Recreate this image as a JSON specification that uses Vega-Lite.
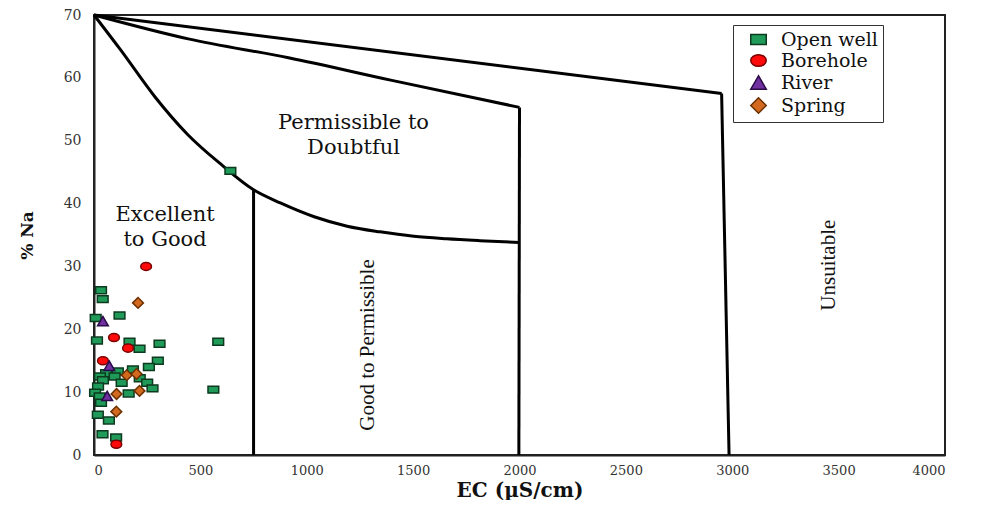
{
  "$schema": "https://vega.github.io/schema/vega-lite/v6.json",
  "width": 851,
  "height": 440,
  "padding": {"left": 18, "top": 8, "right": 30, "bottom": 0},
  "background": "white",
  "config": {
    "view": {"stroke": "#222", "strokeWidth": 2},
    "font": "DejaVu Serif"
  },
  "datasets": {
    "curves": [
      {"seg": "a", "ord": 1, "x": 0, "y": 70},
      {"seg": "a", "ord": 2, "x": 126, "y": 64.4},
      {"seg": "a", "ord": 3, "x": 286, "y": 57.0},
      {"seg": "a", "ord": 4, "x": 440, "y": 51.0},
      {"seg": "a", "ord": 5, "x": 595, "y": 46.3},
      {"seg": "a", "ord": 6, "x": 750, "y": 42.2},
      {"seg": "a", "ord": 7, "x": 876, "y": 40.1},
      {"seg": "a", "ord": 8, "x": 1035, "y": 37.9},
      {"seg": "a", "ord": 9, "x": 1190, "y": 36.4},
      {"seg": "a", "ord": 10, "x": 1344, "y": 35.5},
      {"seg": "a", "ord": 11, "x": 1503, "y": 34.8},
      {"seg": "a", "ord": 12, "x": 1658, "y": 34.4},
      {"seg": "a", "ord": 13, "x": 1813, "y": 34.1},
      {"seg": "a", "ord": 14, "x": 2000, "y": 33.8},
      {"seg": "c", "ord": 1, "x": 0, "y": 70},
      {"seg": "c", "ord": 2, "x": 443, "y": 66.2},
      {"seg": "c", "ord": 3, "x": 914, "y": 63.2},
      {"seg": "c", "ord": 4, "x": 1400, "y": 59.6},
      {"seg": "c", "ord": 5, "x": 2000, "y": 55.3},
      {"seg": "d", "ord": 1, "x": 0, "y": 70},
      {"seg": "d", "ord": 2, "x": 2950, "y": 57.5}
    ],
    "verticals": [
      {"seg": "b", "ord": 1, "x": 750, "y": 42.2},
      {"seg": "b", "ord": 2, "x": 750, "y": 0},
      {"seg": "e", "ord": 1, "x": 2000, "y": 55.3},
      {"seg": "e", "ord": 2, "x": 1997, "y": 0},
      {"seg": "f", "ord": 1, "x": 2950, "y": 57.5},
      {"seg": "f", "ord": 2, "x": 2985, "y": 0}
    ],
    "labels": [
      {"x": 1220, "y": 52.8, "text": "Permissible to", "angle": 0},
      {"x": 1220, "y": 48.8, "text": "Doubtful", "angle": 0},
      {"x": 334, "y": 38.2, "text": "Excellent", "angle": 0},
      {"x": 334, "y": 34.2, "text": "to Good", "angle": 0},
      {"x": 1290, "y": 17.5, "text": "Good to Permissible", "angle": 270},
      {"x": 3457, "y": 30.2, "text": "Unsuitable", "angle": 270}
    ],
    "points": [
      {"type": "Open well", "ec": 33, "na": 26.2},
      {"type": "Open well", "ec": 41, "na": 24.8},
      {"type": "Open well", "ec": 120, "na": 22.2},
      {"type": "Open well", "ec": 8, "na": 21.8},
      {"type": "Open well", "ec": 14, "na": 18.2},
      {"type": "Open well", "ec": 167, "na": 18.0},
      {"type": "Open well", "ec": 308, "na": 17.7},
      {"type": "Open well", "ec": 584, "na": 18.0},
      {"type": "Open well", "ec": 214, "na": 16.9},
      {"type": "Open well", "ec": 300, "na": 15.0},
      {"type": "Open well", "ec": 258, "na": 14.0},
      {"type": "Open well", "ec": 183, "na": 13.6},
      {"type": "Open well", "ec": 112, "na": 13.3},
      {"type": "Open well", "ec": 57, "na": 13.0},
      {"type": "Open well", "ec": 28, "na": 12.5},
      {"type": "Open well", "ec": 97, "na": 12.5},
      {"type": "Open well", "ec": 215, "na": 12.2},
      {"type": "Open well", "ec": 42, "na": 11.9},
      {"type": "Open well", "ec": 130, "na": 11.5},
      {"type": "Open well", "ec": 250, "na": 11.5},
      {"type": "Open well", "ec": 19, "na": 10.9},
      {"type": "Open well", "ec": 275, "na": 10.6},
      {"type": "Open well", "ec": 5, "na": 9.9},
      {"type": "Open well", "ec": 163, "na": 9.8},
      {"type": "Open well", "ec": 27, "na": 9.3},
      {"type": "Open well", "ec": 561, "na": 10.4},
      {"type": "Open well", "ec": 33, "na": 8.3},
      {"type": "Open well", "ec": 18, "na": 6.4},
      {"type": "Open well", "ec": 70, "na": 5.5},
      {"type": "Open well", "ec": 40, "na": 3.3},
      {"type": "Open well", "ec": 104, "na": 2.8},
      {"type": "Open well", "ec": 641, "na": 45.2},
      {"type": "Borehole", "ec": 94, "na": 18.7},
      {"type": "Borehole", "ec": 160, "na": 17.0},
      {"type": "Borehole", "ec": 42, "na": 15.0},
      {"type": "Borehole", "ec": 105, "na": 1.7},
      {"type": "Borehole", "ec": 245, "na": 30.0},
      {"type": "River", "ec": 42, "na": 21.3},
      {"type": "River", "ec": 72, "na": 14.2},
      {"type": "River", "ec": 62, "na": 9.4},
      {"type": "Spring", "ec": 207, "na": 24.2},
      {"type": "Spring", "ec": 154, "na": 12.7},
      {"type": "Spring", "ec": 200, "na": 12.9},
      {"type": "Spring", "ec": 214, "na": 10.2},
      {"type": "Spring", "ec": 106, "na": 9.7},
      {"type": "Spring", "ec": 105, "na": 6.9}
    ]
  },
  "layer": [
    {
      "data": {"name": "curves"},
      "mark": {"type": "line", "color": "black", "strokeWidth": 3, "interpolate": "monotone"},
      "encoding": {
        "x": {"field": "x", "type": "quantitative", "scale": {"domain": [0, 4000], "nice": false},
          "axis": {"title": "EC  (µS/cm)", "format": "d", "values": [0, 500, 1000, 1500, 2000, 2500, 3000, 3500, 4000], "grid": false, "ticks": false, "labelFont": "DejaVu Serif", "labelFontSize": 13, "labelColor": "#333", "labelPadding": 9, "titleFont": "DejaVu Serif", "titleFontSize": 20, "titleFontWeight": "bold", "titleColor": "#111", "titlePadding": 3, "domainColor": "#222", "domainWidth": 2}},
        "y": {"field": "y", "type": "quantitative", "scale": {"domain": [0, 70], "nice": false},
          "axis": {"title": "% Na", "values": [0, 10, 20, 30, 40, 50, 60, 70], "grid": false, "ticks": false, "labelFont": "DejaVu Serif", "labelFontSize": 14, "labelColor": "#333", "labelPadding": 13, "titleFont": "DejaVu Serif", "titleFontSize": 17, "titleFontWeight": "bold", "titleColor": "#111", "titlePadding": 27, "domainColor": "#222", "domainWidth": 2}},
        "detail": {"field": "seg"},
        "order": {"field": "ord", "type": "quantitative"}
      }
    },
    {
      "data": {"name": "verticals"},
      "mark": {"type": "line", "color": "black", "strokeWidth": 3},
      "encoding": {
        "x": {"field": "x", "type": "quantitative"},
        "y": {"field": "y", "type": "quantitative"},
        "detail": {"field": "seg"},
        "order": {"field": "ord", "type": "quantitative"}
      }
    },
    {
      "data": {"name": "labels"},
      "transform": [{"filter": "datum.angle == 0"}],
      "mark": {"type": "text", "font": "DejaVu Serif", "fontSize": 21, "color": "#111", "align": "center", "baseline": "middle"},
      "encoding": {
        "x": {"field": "x", "type": "quantitative"},
        "y": {"field": "y", "type": "quantitative"},
        "text": {"field": "text"}
      }
    },
    {
      "data": {"name": "labels"},
      "transform": [{"filter": "datum.angle != 0"}],
      "mark": {"type": "text", "font": "Liberation Serif", "fontSize": 21, "color": "#111", "align": "center", "baseline": "middle", "angle": 270},
      "encoding": {
        "x": {"field": "x", "type": "quantitative"},
        "y": {"field": "y", "type": "quantitative"},
        "text": {"field": "text"}
      }
    },
    {
      "data": {"name": "points"},
      "mark": {"type": "point", "filled": true, "opacity": 1, "strokeWidth": 1.5, "strokeOpacity": 1},
      "encoding": {
        "x": {"field": "ec", "type": "quantitative"},
        "y": {"field": "na", "type": "quantitative"},
        "shape": {"field": "type", "type": "nominal",
          "scale": {"domain": ["Open well", "Borehole", "River", "Spring"],
                    "range": ["M-1,-0.65H1V0.65H-1Z", "M-1,0A1,0.75,0,1,0,1,0A1,0.75,0,1,0,-1,0Z", "triangle-up", "diamond"]},
          "legend": {"title": null, "orient": "none", "legendX": 639, "legendY": 10, "strokeColor": "#333", "padding": 5, "labelFont": "DejaVu Serif", "labelFontSize": 19, "labelColor": "#111", "symbolSize": 240, "symbolStrokeWidth": 1.5, "rowPadding": 1, "labelOffset": 13, "fillColor": "white", "symbolOffset": 11}},
        "fill": {"field": "type", "type": "nominal",
          "scale": {"domain": ["Open well", "Borehole", "River", "Spring"], "range": ["#1f9a58", "#ff0a0a", "#7030a0", "#d2691e"]}},
        "stroke": {"field": "type", "type": "nominal",
          "scale": {"domain": ["Open well", "Borehole", "River", "Spring"], "range": ["#0c3a1f", "#7a0000", "#2a0a48", "#6b3000"]}},
        "size": {"value": 115}
      }
    }
  ]
}
